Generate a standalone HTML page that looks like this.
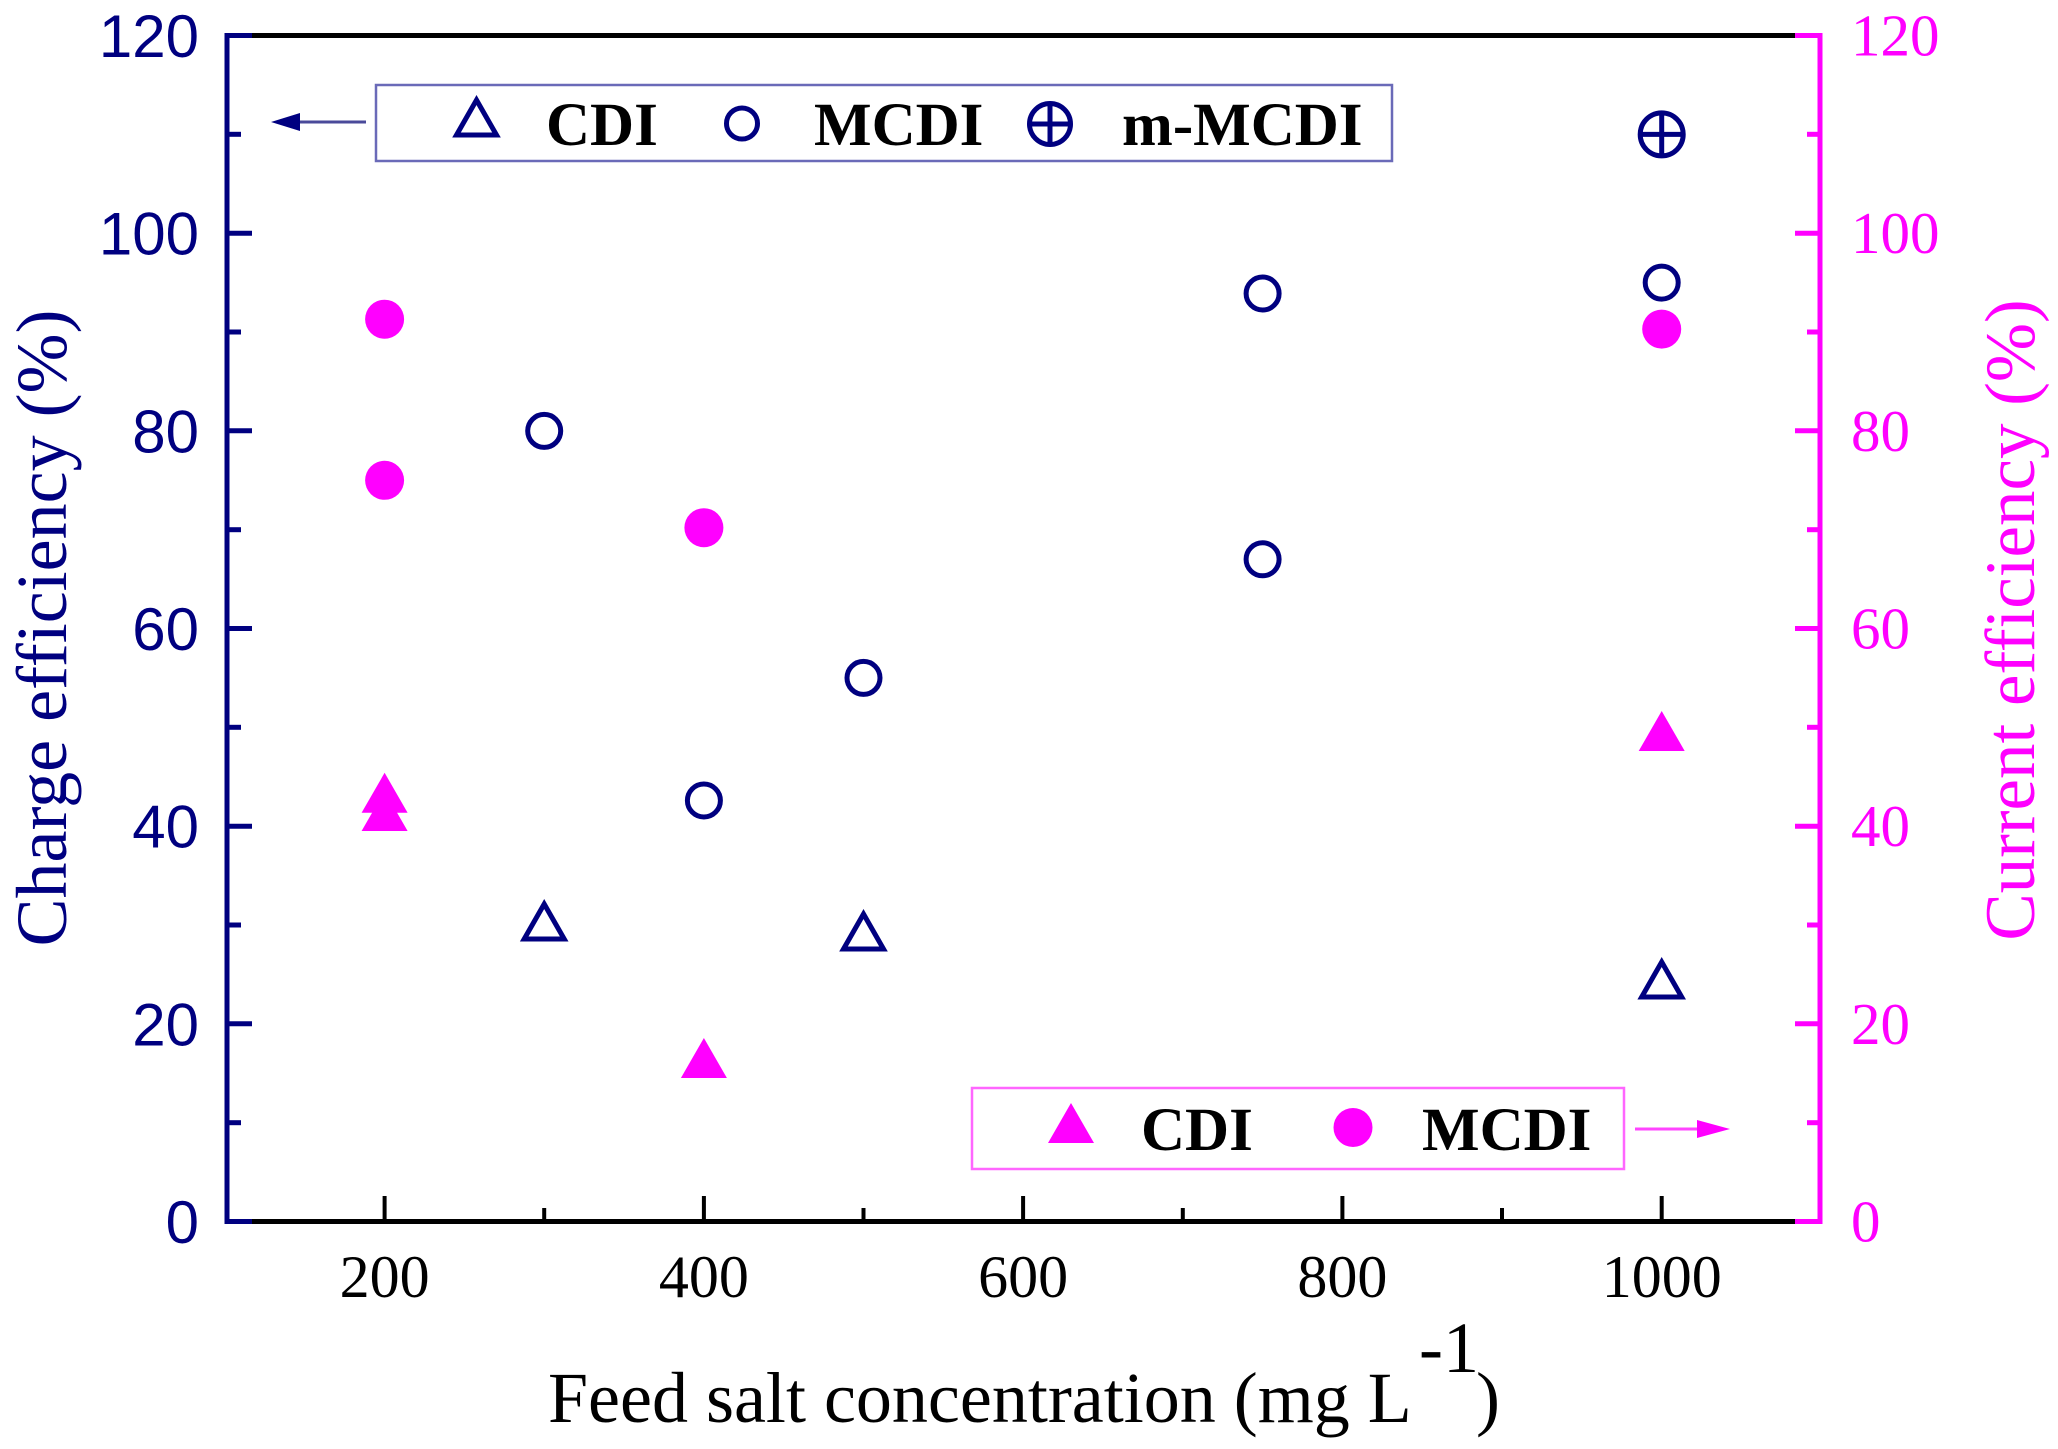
<!DOCTYPE html>
<html><head><meta charset="utf-8">
<style>
html,body{margin:0;padding:0;background:#fff;}
svg{display:block;}
</style></head>
<body>
<svg width="2058" height="1449" viewBox="0 0 2058 1449" xmlns="http://www.w3.org/2000/svg">
<rect width="2058" height="1449" fill="#fff"/>
<!-- axes -->
<line x1="225" y1="35.5" x2="1821" y2="35.5" stroke="#000" stroke-width="5"/>
<line x1="225" y1="1221.5" x2="1821" y2="1221.5" stroke="#000" stroke-width="5"/>
<line x1="227" y1="33" x2="227" y2="1224" stroke="#000080" stroke-width="5"/>
<line x1="1820" y1="33" x2="1820" y2="1224" stroke="#ff00ff" stroke-width="5"/>
<!-- left ticks -->
<g stroke="#000080" stroke-width="5">
<line x1="227" y1="1221.5" x2="252" y2="1221.5"/>
<line x1="227" y1="1122.7" x2="241" y2="1122.7"/>
<line x1="227" y1="1023.8" x2="252" y2="1023.8"/>
<line x1="227" y1="925" x2="241" y2="925"/>
<line x1="227" y1="826.2" x2="252" y2="826.2"/>
<line x1="227" y1="727.3" x2="241" y2="727.3"/>
<line x1="227" y1="628.5" x2="252" y2="628.5"/>
<line x1="227" y1="529.7" x2="241" y2="529.7"/>
<line x1="227" y1="430.8" x2="252" y2="430.8"/>
<line x1="227" y1="332" x2="241" y2="332"/>
<line x1="227" y1="233.2" x2="252" y2="233.2"/>
<line x1="227" y1="134.3" x2="241" y2="134.3"/>
<line x1="227" y1="35.5" x2="252" y2="35.5"/>
</g>
<!-- right ticks -->
<g stroke="#ff00ff" stroke-width="5">
<line x1="1820" y1="1221.5" x2="1795" y2="1221.5"/>
<line x1="1820" y1="1122.7" x2="1807" y2="1122.7"/>
<line x1="1820" y1="1023.8" x2="1795" y2="1023.8"/>
<line x1="1820" y1="925" x2="1807" y2="925"/>
<line x1="1820" y1="826.2" x2="1795" y2="826.2"/>
<line x1="1820" y1="727.3" x2="1807" y2="727.3"/>
<line x1="1820" y1="628.5" x2="1795" y2="628.5"/>
<line x1="1820" y1="529.7" x2="1807" y2="529.7"/>
<line x1="1820" y1="430.8" x2="1795" y2="430.8"/>
<line x1="1820" y1="332" x2="1807" y2="332"/>
<line x1="1820" y1="233.2" x2="1795" y2="233.2"/>
<line x1="1820" y1="134.3" x2="1807" y2="134.3"/>
<line x1="1820" y1="35.5" x2="1795" y2="35.5"/>
</g>
<!-- bottom ticks -->
<g stroke="#000" stroke-width="4">
<line x1="384.6" y1="1221" x2="384.6" y2="1196"/>
<line x1="544.2" y1="1221" x2="544.2" y2="1208"/>
<line x1="703.9" y1="1221" x2="703.9" y2="1196"/>
<line x1="863.5" y1="1221" x2="863.5" y2="1208"/>
<line x1="1023.1" y1="1221" x2="1023.1" y2="1196"/>
<line x1="1182.8" y1="1221" x2="1182.8" y2="1208"/>
<line x1="1342.4" y1="1221" x2="1342.4" y2="1196"/>
<line x1="1502" y1="1221" x2="1502" y2="1208"/>
<line x1="1661.7" y1="1221" x2="1661.7" y2="1196"/>
</g>
<!-- left tick labels -->
<g font-family="'Liberation Sans', Arial, sans-serif" font-size="60" fill="#000080" text-anchor="end">
<text x="199" y="1243">0</text>
<text x="199" y="1045.3">20</text>
<text x="199" y="847.7">40</text>
<text x="199" y="650">60</text>
<text x="199" y="452.3">80</text>
<text x="199" y="254.7">100</text>
<text x="199" y="57">120</text>
</g>
<!-- right tick labels -->
<g font-family="'Liberation Serif', 'Times New Roman', serif" font-size="59" fill="#ff00ff">
<text x="1851" y="1241.5">0</text>
<text x="1851" y="1043.8">20</text>
<text x="1851" y="846.2">40</text>
<text x="1851" y="648.5">60</text>
<text x="1851" y="450.8">80</text>
<text x="1851" y="253.2">100</text>
<text x="1851" y="55.5">120</text>
</g>
<!-- bottom tick labels -->
<g font-family="'Liberation Serif', 'Times New Roman', serif" font-size="60" fill="#000" text-anchor="middle">
<text x="384.6" y="1297">200</text>
<text x="703.9" y="1297">400</text>
<text x="1023.1" y="1297">600</text>
<text x="1342.4" y="1297">800</text>
<text x="1661.7" y="1297">1000</text>
</g>
<!-- axis titles -->
<text x="548" y="1422" font-family="'Liberation Serif', 'Times New Roman', serif" font-size="72" fill="#000">Feed salt concentration (mg L</text>
<text x="1419" y="1372" font-family="'Liberation Serif', 'Times New Roman', serif" font-size="72" fill="#000">-1</text>
<text x="1476" y="1422" font-family="'Liberation Serif', 'Times New Roman', serif" font-size="72" fill="#000">)</text>
<text transform="translate(66,628) rotate(-90)" text-anchor="middle" font-family="'Liberation Serif', 'Times New Roman', serif" font-size="72" fill="#000080">Charge efficiency (%)</text>
<text transform="translate(2034,620) rotate(-90)" text-anchor="middle" font-family="'Liberation Serif', 'Times New Roman', serif" font-size="71" fill="#ff00ff">Current efficiency (%)</text>

<!-- data: magenta filled circles (right axis) -->
<g fill="#ff00ff">
<circle cx="384.6" cy="319.2" r="19.5"/>
<circle cx="384.6" cy="480.3" r="19.5"/>
<circle cx="703.9" cy="527.7" r="19.5"/>
<circle cx="1661.7" cy="329.1" r="19.5"/>
</g>
<!-- magenta filled triangles -->
<g fill="#ff00ff">
<path d="M384.6 772.8 L407.6 812.8 L361.6 812.8 Z"/>
<path d="M384.6 791 L407.6 831 L361.6 831 Z"/>
<path d="M703.9 1038 L726.9 1078 L680.9 1078 Z"/>
<path d="M1661.7 711 L1684.7 751 L1638.7 751 Z"/>
</g>
<!-- navy open circles -->
<g fill="none" stroke="#000080" stroke-width="5">
<circle cx="544.2" cy="430.9" r="16.5"/>
<circle cx="703.9" cy="800.5" r="16.5"/>
<circle cx="863.5" cy="677.9" r="16.5"/>
<circle cx="1262.6" cy="293.5" r="16.5"/>
<circle cx="1262.6" cy="559.3" r="16.5"/>
<circle cx="1661.7" cy="282.6" r="16.5"/>
</g>
<!-- navy open triangles -->
<g fill="none" stroke="#000080" stroke-width="5" stroke-linejoin="miter">
<path d="M544.2 904 L564.2 939 L524.2 939 Z"/>
<path d="M863.5 914 L883.5 949 L843.5 949 Z"/>
<path d="M1661.7 962 L1681.7 997 L1641.7 997 Z"/>
</g>
<!-- crosshair -->
<g fill="none" stroke="#000080" stroke-width="5">
<circle cx="1661.7" cy="134.4" r="21.5"/>
<line x1="1640.2" y1="134.4" x2="1683.2" y2="134.4"/>
<line x1="1661.7" y1="112.9" x2="1661.7" y2="155.9"/>
</g>

<!-- Legend 1 -->
<rect x="376" y="85" width="1016" height="76" fill="#fff" stroke="#6a6ab8" stroke-width="2.5"/>
<line x1="366" y1="122" x2="295" y2="122" stroke="#4a4a9a" stroke-width="3"/>
<path d="M271 122 L300 113 L300 131 Z" fill="#000080"/>
<path d="M476.5 100 L496.5 135 L456.5 135 Z" fill="none" stroke="#000080" stroke-width="5"/>
<circle cx="742" cy="123.5" r="15.5" fill="none" stroke="#000080" stroke-width="5"/>
<g fill="none" stroke="#000080" stroke-width="5">
<circle cx="1050" cy="124" r="20.5"/>
<line x1="1029.5" y1="124" x2="1070.5" y2="124"/>
<line x1="1050" y1="103.5" x2="1050" y2="144.5"/>
</g>
<g font-family="'Liberation Serif', 'Times New Roman', serif" font-size="61" font-weight="bold" fill="#000">
<text x="546" y="145">CDI</text>
<text x="814" y="145">MCDI</text>
<text x="1122" y="145">m-MCDI</text>
</g>

<!-- Legend 2 -->
<rect x="972" y="1088" width="652" height="81" fill="#fff" stroke="#ff66ff" stroke-width="2.5"/>
<path d="M1071 1103 L1094 1143 L1048 1143 Z" fill="#ff00ff"/>
<circle cx="1353" cy="1127.5" r="19.5" fill="#ff00ff"/>
<line x1="1635" y1="1129" x2="1700" y2="1129" stroke="#ff44ff" stroke-width="3"/>
<path d="M1730 1129 L1697 1120 L1697 1138 Z" fill="#ff00ff"/>
<g font-family="'Liberation Serif', 'Times New Roman', serif" font-size="61" font-weight="bold" fill="#000">
<text x="1141" y="1150">CDI</text>
<text x="1422" y="1150">MCDI</text>
</g>
</svg>
</body></html>
